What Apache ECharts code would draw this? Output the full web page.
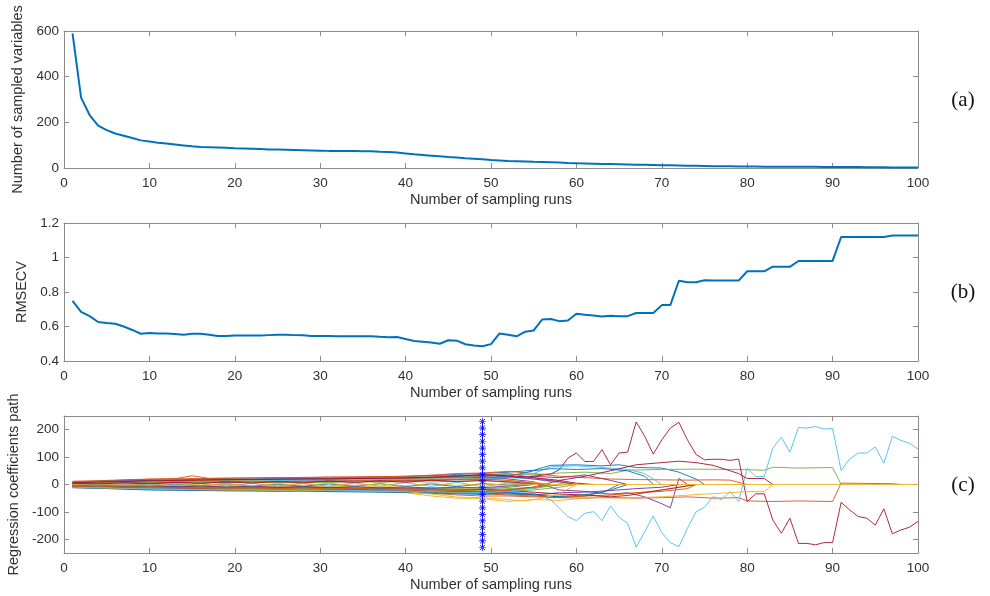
<!DOCTYPE html>
<html>
<head>
<meta charset="utf-8">
<title>CARS sampling</title>
<script src="https://cdn.jsdelivr.net/npm/echarts@6/dist/echarts.min.js"></script>
<style>
html, body { margin: 0; padding: 0; background: #fff; }
#chart { width: 990px; height: 596px; }
</style>
</head>
<body>
<div id="chart"></div>
<script>
// sampling run index 1..100
var runs = [];
for (var i = 1; i <= 100; i++) runs.push(i);

// (a) number of sampled variables per run
var sampledVars = [590, 308, 232, 186, 166, 151, 141, 131, 121, 116,
    111, 107, 103, 99, 95, 92, 91, 90, 89, 86,
    85, 84, 83, 81, 81, 80, 79, 78, 77, 76,
    75, 75, 74, 74, 73, 73, 71, 70, 68, 64,
    60, 57, 54, 51, 48, 46, 43, 41, 38, 35,
    33, 31, 30, 29, 27, 26, 25, 24, 22, 21,
    20, 19, 18, 17, 16, 15, 14, 14, 13, 12,
    12, 11, 10, 10, 9, 8, 8, 8, 7, 7,
    7, 6, 6, 6, 5, 5, 5, 5, 4, 4,
    4, 4, 4, 3, 3, 3, 2, 2, 2, 2];

// (b) RMSECV per run
var rmsecv = [0.749, 0.685, 0.66, 0.626, 0.62, 0.616, 0.6, 0.58, 0.558, 0.562,
    0.56, 0.559, 0.557, 0.552, 0.558, 0.558, 0.552, 0.545, 0.545, 0.548,
    0.548, 0.548, 0.548, 0.55, 0.552, 0.552, 0.55, 0.549, 0.545, 0.545,
    0.545, 0.543, 0.543, 0.543, 0.543, 0.543, 0.54, 0.538, 0.539, 0.527,
    0.516, 0.512, 0.507, 0.5, 0.52, 0.518, 0.497, 0.49, 0.485, 0.498,
    0.56, 0.552, 0.543, 0.57, 0.577, 0.641, 0.643, 0.631, 0.635, 0.674,
    0.668, 0.664, 0.658, 0.662, 0.66, 0.66, 0.678, 0.678, 0.678, 0.724,
    0.724, 0.865, 0.857, 0.857, 0.868, 0.866, 0.866, 0.866, 0.866, 0.92,
    0.92, 0.92, 0.947, 0.947, 0.946, 0.98, 0.98, 0.98, 0.98, 0.98,
    1.119, 1.119, 1.119, 1.119, 1.119, 1.119, 1.127, 1.127, 1.127, 1.127];

// (c) regression coefficient paths, [run, coefficient]; colours cycle like MATLAB
var coefPaths = [
    [[1,8],[4,12],[7,15],[10,18],[13,16],[16,20],[19,22],[22,19],[25,23],[28,24],[31,22],[34,26],[37,27],[40,29],[43,33],[46,37],[49,40],[52,45],[55,52],[57,70],[60,72],[63,68],[65,72],[67,62],[70,60],[72,45],[74,20],[75,0]],
    [[1,-6],[4,-10],[7,-13],[10,-15],[13,-12],[15,-9],[16,-16],[19,-18],[22,-20],[25,-19],[28,-22],[31,-24],[34,-23],[37,-25],[40,-28],[43,-32],[46,-38],[49,-42],[52,-42],[55,-45],[58,-48],[61,-50],[64,-47],[67,-50],[70,-48],[73,-45],[76,-50],[79,-48],[80,-60],[83,-62],[86,-60],[90,-62],[91,5],[94,4],[97,3],[98,0]],
    [[1,-10],[4,-13],[7,-16],[10,-19],[13,-20],[16,-21],[19,-23],[22,-22],[25,-24],[28,-25],[31,-24],[34,-26],[37,-27],[40,-30],[43,-42],[46,-50],[49,-52],[52,-62],[55,-55],[58,-58],[61,-50],[64,-40],[67,-30],[70,-20],[72,-10],[74,0]],
    [[1,4],[4,7],[7,10],[10,12],[13,14],[16,13],[19,15],[22,17],[25,16],[28,18],[31,19],[34,20],[37,21],[40,22],[43,25],[46,28],[49,30],[52,20],[55,10],[58,-20],[61,-25],[64,-35],[66,-30],[68,-45],[70,-70],[71,-85],[72,22],[73,0]],
    [[1,6],[4,9],[7,12],[10,14],[13,13],[16,15],[19,17],[22,16],[25,18],[28,17],[31,19],[34,20],[37,18],[40,21],[43,24],[46,27],[49,32],[52,38],[55,35],[58,42],[61,45],[64,40],[66,52],[70,55],[74,56],[78,55],[80,54],[82,52],[83,63],[86,60],[90,62],[91,0]],
    [[1,-4],[4,-7],[7,-9],[10,-11],[13,-9],[16,-12],[19,-13],[22,-11],[25,-14],[28,-15],[31,-13],[34,-16],[37,-17],[40,-18],[43,-20],[46,-23],[49,-25],[52,-28],[55,-32],[57,-56],[59,-117],[60,-132],[61,-105],[62,-99],[63,-132],[64,-78],[65,-120],[66,-141],[67,-229],[68,-172],[69,-115],[70,-176],[71,-212],[72,-227],[73,-160],[74,-100],[75,-83],[76,-44],[77,-56],[78,-26],[79,-62],[80,60],[81,29],[82,29],[83,133],[84,173],[85,118],[86,208],[87,206],[88,212],[89,202],[90,205],[91,51],[92,93],[93,115],[94,115],[95,137],[96,78],[97,176],[98,161],[99,151],[100,129]],
    [[1,2],[4,5],[7,3],[10,6],[13,8],[16,5],[19,9],[22,10],[25,8],[28,12],[31,11],[34,13],[37,12],[40,15],[43,17],[46,20],[49,22],[52,25],[55,30],[57,38],[58,54],[59,96],[60,115],[61,84],[62,84],[63,127],[64,72],[65,115],[66,118],[67,228],[68,176],[69,111],[70,163],[71,206],[72,227],[73,163],[74,110],[75,90],[76,92],[77,92],[78,88],[79,93],[80,-62],[81,-34],[82,-34],[83,-130],[84,-178],[85,-123],[86,-215],[87,-215],[88,-220],[89,-212],[90,-212],[91,-65],[92,-93],[93,-117],[94,-123],[95,-148],[96,-89],[97,-180],[98,-166],[99,-156],[100,-135]],
    [[1,-8],[4,-11],[7,-14],[10,-17],[13,-18],[16,-20],[19,-19],[22,-21],[25,-22],[28,-21],[31,-23],[34,-24],[37,-23],[40,-26],[43,-28],[46,-30],[49,-32],[52,-35],[55,-38],[58,-45],[61,-42],[64,-20],[66,0]],
    [[1,9],[4,12],[7,16],[10,19],[13,21],[15,32],[17,22],[19,23],[22,24],[25,25],[28,24],[31,27],[34,26],[37,28],[40,30],[43,34],[46,40],[49,42],[52,48],[55,40],[58,30],[61,25],[64,20],[67,18],[70,17],[73,16],[76,17],[78,16],[80,0]],
    [[1,-5],[4,-8],[7,-10],[10,-12],[13,-14],[16,-13],[19,-15],[22,-16],[25,-15],[28,-17],[31,-18],[34,-17],[37,-19],[40,-21],[43,-24],[46,-28],[49,-30],[55,-35],[60,-45],[65,-50],[70,-45],[75,-35],[78,-30],[80,-26],[82,-26],[83,0]],
    [[1,-7],[4,-10],[7,-12],[10,-14],[13,-16],[16,-17],[19,-16],[22,-18],[25,-19],[28,-20],[31,-21],[34,-20],[37,-22],[40,-24],[43,-26],[46,-27],[49,-28],[52,-30],[55,-38],[58,-30],[61,-28],[64,-22],[67,-15],[70,-10],[72,0]],
    [[1,-2],[4,-4],[7,-6],[10,-8],[13,-9],[16,-11],[19,-13],[22,-12],[25,-14],[28,-13],[31,-15],[34,-16],[37,-15],[40,-18],[43,-19],[46,-21],[49,-20],[52,-15],[55,-10],[57,-5],[59,0]],
    [[1,10],[4,12],[7,14],[10,16],[13,17],[16,18],[19,19],[22,20],[25,21],[28,22],[31,21],[34,23],[37,24],[40,25],[43,27],[46,30],[49,33],[52,35],[55,40],[57,65],[60,68],[63,62],[66,55],[68,40],[70,0]],
    [[1,-6],[4,-9],[7,-11],[10,-13],[13,-14],[16,-15],[19,-17],[22,-16],[25,-18],[28,-19],[31,-20],[34,-19],[37,-21],[40,-22],[43,-24],[46,-25],[49,-26],[52,-20],[55,-10],[58,15],[61,30],[64,50],[67,72],[70,80],[72,85],[74,80],[76,70],[78,50],[79,40],[80,22],[82,22],[83,0]],
    [[1,3],[4,5],[7,7],[10,9],[13,11],[16,12],[19,13],[22,14],[25,15],[28,16],[31,17],[34,16],[37,18],[40,20],[43,22],[46,24],[49,26],[52,30],[55,50],[57,58],[60,55],[63,58],[66,50],[68,30],[69,0]],
    [[1,-3],[4,-5],[7,-8],[10,-10],[13,-12],[16,-14],[19,-15],[22,-16],[25,-17],[28,-16],[31,-18],[34,-19],[37,-20],[40,-22],[43,-26],[46,-30],[49,-34],[52,-38],[55,-42],[58,-48],[61,-42],[64,-38],[67,-30],[70,-25],[73,-15],[74,0]],
    [[1,7],[4,9],[7,10],[10,11],[13,12],[16,14],[19,15],[22,14],[25,16],[28,17],[31,18],[34,17],[37,19],[40,20],[43,21],[46,22],[49,22],[52,15],[55,8],[57,0]],
    [[1,1],[4,3],[7,5],[10,4],[13,6],[16,8],[19,7],[22,9],[25,10],[28,9],[31,11],[34,12],[37,11],[40,13],[43,15],[46,17],[49,18],[52,25],[55,30],[58,25],[61,35],[64,15],[66,0]],
    [[1,-11],[4,-13],[7,-16],[10,-18],[13,-19],[16,-20],[19,-21],[22,-22],[25,-21],[28,-23],[31,-24],[34,-25],[37,-26],[40,-27],[43,-28],[46,-30],[49,-31],[52,-25],[55,-20],[58,-10],[60,0]],
    [[1,5],[4,7],[7,9],[10,10],[13,12],[16,11],[19,13],[22,12],[25,14],[28,15],[31,14],[34,16],[37,17],[40,18],[43,19],[46,20],[49,20],[52,25],[55,20],[57,10],[59,0]],
    [[1,-1],[4,-3],[7,-4],[10,-6],[13,-7],[16,-8],[19,-9],[22,-10],[25,-9],[28,-11],[31,-12],[34,-13],[37,-14],[40,-15],[43,-16],[46,-17],[49,-18],[52,-22],[55,-28],[58,-35],[61,-38],[64,-45],[66,-40],[68,-30],[70,-20],[72,-10],[74,0]],
    [[1,-12],[4,-14],[7,-17],[10,-20],[13,-21],[16,-22],[19,-23],[22,-24],[25,-25],[28,-24],[31,-26],[34,-27],[37,-28],[40,-29],[43,-31],[46,-34],[49,-36],[52,-30],[55,-35],[57,-45],[60,-40],[63,-30],[65,0]],
    [[1,12],[4,14],[7,17],[10,20],[13,21],[16,22],[19,23],[22,24],[25,25],[28,26],[31,27],[34,28],[37,29],[40,30],[43,31],[46,33],[49,34],[52,40],[55,25],[58,10],[60,0]],
    [[1,-9],[4,-12],[7,-14],[10,-16],[13,-18],[16,-19],[19,-20],[22,-20],[25,-22],[28,-23],[31,-22],[34,-24],[37,-25],[40,-26],[43,-35],[46,-46],[49,-48],[52,-55],[54,-60],[56,-50],[58,-35],[60,0]],
    [[1,8],[4,10],[7,13],[10,15],[13,16],[16,17],[19,18],[22,19],[25,20],[28,21],[31,20],[34,22],[37,23],[40,24],[43,26],[46,30],[49,35],[52,30],[55,20],[58,10],[60,0]],
    [[1,-3],[4,-6],[7,-7],[10,-9],[13,-11],[16,-10],[19,-12],[22,-13],[25,-12],[28,-14],[31,-15],[34,-14],[37,-16],[40,-17],[43,-19],[46,-22],[49,-24],[52,-20],[55,-15],[58,0]],
    [[1,-9],[4,-11],[7,-13],[10,-15],[13,-16],[16,-18],[19,-17],[22,-19],[25,-20],[28,-19],[31,-21],[34,-22],[37,-23],[40,-24],[43,-26],[46,-28],[49,-30],[52,-25],[55,-12],[57,0]],
    [[1,6],[4,8],[7,11],[10,13],[13,15],[16,16],[19,17],[22,18],[25,19],[28,20],[31,21],[34,22],[37,23],[40,24],[43,27],[46,31],[49,36],[52,32],[55,25],[58,15],[60,5],[62,0]],
    [[1,-4],[4,-6],[7,-5],[10,-7],[13,-8],[16,-7],[19,-9],[22,-8],[25,-10],[28,-11],[31,-10],[34,-12],[37,-13],[40,-12],[43,-14],[46,-15],[49,-16],[52,-10],[55,0]],
    [[1,3],[4,4],[7,6],[10,7],[13,9],[16,8],[19,10],[22,11],[25,10],[28,12],[31,13],[34,14],[37,13],[40,15],[43,16],[46,18],[49,20],[52,15],[55,5],[57,0]],
    [[1,-2],[4,-4],[7,-3],[10,-5],[13,-4],[16,-6],[19,-5],[22,-7],[25,-6],[28,-8],[31,-7],[34,-9],[37,-8],[40,-10],[43,-12],[46,-14],[49,-15],[52,-8],[54,0]],
    [[1,-5],[4,-3],[7,-7],[10,-4],[13,-9],[16,-5],[19,-10],[22,-6],[25,-11],[28,-7],[31,-12],[34,-8],[37,-12],[40,-9],[43,-13],[46,-10],[49,-12],[52,-5],[54,0]],
    [[1,2],[4,5],[7,3],[10,7],[13,4],[16,8],[19,5],[22,9],[25,6],[28,10],[31,7],[34,11],[37,8],[40,11],[43,9],[46,12],[49,14],[52,8],[55,0]],
    [[1,-1],[4,1],[7,-3],[10,2],[13,-4],[16,3],[19,-5],[22,4],[25,-5],[28,5],[31,-6],[34,6],[37,-6],[40,7],[43,-7],[46,8],[49,-8],[52,5],[55,0]],
    [[1,4],[4,2],[7,6],[10,3],[13,8],[16,4],[19,10],[22,5],[25,11],[28,6],[31,13],[34,7],[37,14],[40,8],[43,16],[46,10],[49,15],[52,10],[56,0]],
    [[1,1],[4,-2],[7,2],[10,-3],[13,1],[16,-4],[19,2],[22,-5],[25,1],[28,-6],[31,2],[34,-6],[37,3],[40,-7],[43,2],[46,-8],[49,3],[52,-2],[54,0]],
    [[1,-8],[4,-6],[7,-10],[10,-8],[13,-12],[16,-10],[19,-13],[22,-11],[25,-15],[28,-12],[31,-16],[34,-14],[37,-17],[40,-15],[43,-19],[46,-22],[49,-26],[52,-20],[55,-10],[57,0]],
    [[1,0],[4,-2],[7,2],[10,-3],[13,3],[16,-2],[19,2],[22,-4],[25,3],[28,-2],[31,4],[34,-3],[37,2],[40,-5],[43,4],[46,-3],[49,2],[52,-3],[55,2],[58,0],[100,0]]
];

// optimal run marker (x = 49)
var optimalRun = 49;
var markerY = [230, 206, 182, 157, 133, 109, 85, 61, 36, 12, -12, -36, -61, -85, -109, -133, -157, -182, -206, -230];
var coefTicks = [-200, -100, 0, 100, 200];

var matlabColors = ['#0072BD', '#D95319', '#EDB120', '#7E2F8E', '#77AC30', '#4DBEEE', '#A2142F'];
var lineColor = '#8c8c8c';
var textColor = '#303030';
var font = '"Liberation Sans", Arial, Helvetica, sans-serif';

var grids = [
    { left: 64, top: 31, width: 854, height: 137, outerBoundsMode: 'none' },
    { left: 64, top: 223, width: 854, height: 138, outerBoundsMode: 'none' },
    { left: 64, top: 416, width: 854, height: 137, outerBoundsMode: 'none' }
];

function xAxisFor(g, pos) {
    return {
        type: 'value', gridIndex: g, position: pos,
        min: 0, max: 100, interval: 10,
        axisLine: { show: true, onZero: false, lineStyle: { color: lineColor, width: 1 } },
        axisTick: { show: true, inside: true, length: 5, lineStyle: { color: lineColor } },
        axisLabel: { show: pos === 'bottom', color: textColor, fontSize: 13.5, margin: 8, fontFamily: font },
        splitLine: { show: false },
        name: pos === 'bottom' ? 'Number of sampling runs' : '',
        nameLocation: 'middle', nameGap: 24,
        nameTextStyle: { color: textColor, fontSize: 14.5, fontFamily: font }
    };
}

function yAxisFor(g, pos, min, max, interval, name, gap, custom) {
    var ax = {
        type: 'value', gridIndex: g, position: pos,
        min: min, max: max,
        axisLine: { show: true, onZero: false, lineStyle: { color: lineColor, width: 1 } },
        axisTick: { show: true, inside: true, length: 5, lineStyle: { color: lineColor } },
        axisLabel: { show: pos === 'left', color: textColor, fontSize: 13.5, margin: 5, fontFamily: font },
        splitLine: { show: false },
        name: pos === 'left' ? name : '',
        nameLocation: 'middle', nameGap: gap,
        nameTextStyle: { color: textColor, fontSize: 14.5, fontFamily: font }
    };
    if (custom) {
        ax.axisTick.customValues = custom;
        ax.axisLabel.customValues = custom;
    } else {
        ax.interval = interval;
    }
    return ax;
}

var xAxes = [], yAxes = [];
for (var g = 0; g < 3; g++) {
    xAxes.push(xAxisFor(g, 'bottom'));
    xAxes.push(xAxisFor(g, 'top'));
}
yAxes.push(yAxisFor(0, 'left', 0, 600, 200, 'Number of sampled variables', 29));
yAxes.push(yAxisFor(0, 'right', 0, 600, 200, ''));
yAxes.push(yAxisFor(1, 'left', 0.4, 1.2, 0.2, 'RMSECV', 27));
yAxes.push(yAxisFor(1, 'right', 0.4, 1.2, 0.2, ''));
yAxes.push(yAxisFor(2, 'left', -250, 250, null, 'Regression coefficients path', 34, coefTicks));
yAxes.push(yAxisFor(2, 'right', -250, 250, null, '', 0, coefTicks));

var series = [];
series.push({
    type: 'line', xAxisIndex: 0, yAxisIndex: 0, showSymbol: false,
    data: runs.map(function (r, i) { return [r, sampledVars[i]]; }),
    lineStyle: { color: '#0072BD', width: 2 }
});
series.push({
    type: 'line', xAxisIndex: 2, yAxisIndex: 2, showSymbol: false,
    data: runs.map(function (r, i) { return [r, rmsecv[i]]; }),
    lineStyle: { color: '#0072BD', width: 2 }
});
coefPaths.forEach(function (path, k) {
    series.push({
        type: 'line', xAxisIndex: 4, yAxisIndex: 4, showSymbol: false,
        data: path,
        lineStyle: { color: matlabColors[k % 7], width: 1, opacity: 0.9 }
    });
});
var star = 'path://M-0.5,-5L0.5,-5L0.5,5L-0.5,5Z M-5,-0.5L5,-0.5L5,0.5L-5,0.5Z ' +
    'M-3.15,-3.85L3.85,3.15L3.15,3.85L-3.85,-3.15Z M-3.15,3.85L3.85,-3.15L3.15,-3.85L-3.85,3.15Z';
series.push({
    type: 'line', xAxisIndex: 4, yAxisIndex: 4,
    data: markerY.map(function (y) { return [optimalRun, y]; }),
    symbol: star, symbolSize: 7, showSymbol: true,
    itemStyle: { color: '#0000FF' },
    lineStyle: { color: '#0000FF', width: 1 }
});

var chart = echarts.init(document.getElementById('chart'));
chart.setOption({
    animation: false,
    backgroundColor: '#fff',
    grid: grids,
    xAxis: xAxes,
    yAxis: yAxes,
    series: series,
    graphic: [
        { type: 'text', x: 963, y: 100, style: { text: '(a)', fontSize: 21, fontFamily: '"Liberation Serif", "Times New Roman", serif', fill: '#111', align: 'center', verticalAlign: 'middle' } },
        { type: 'text', x: 963, y: 292, style: { text: '(b)', fontSize: 21, fontFamily: '"Liberation Serif", "Times New Roman", serif', fill: '#111', align: 'center', verticalAlign: 'middle' } },
        { type: 'text', x: 963, y: 485, style: { text: '(c)', fontSize: 21, fontFamily: '"Liberation Serif", "Times New Roman", serif', fill: '#111', align: 'center', verticalAlign: 'middle' } }
    ]
});
</script>
</body>
</html>
